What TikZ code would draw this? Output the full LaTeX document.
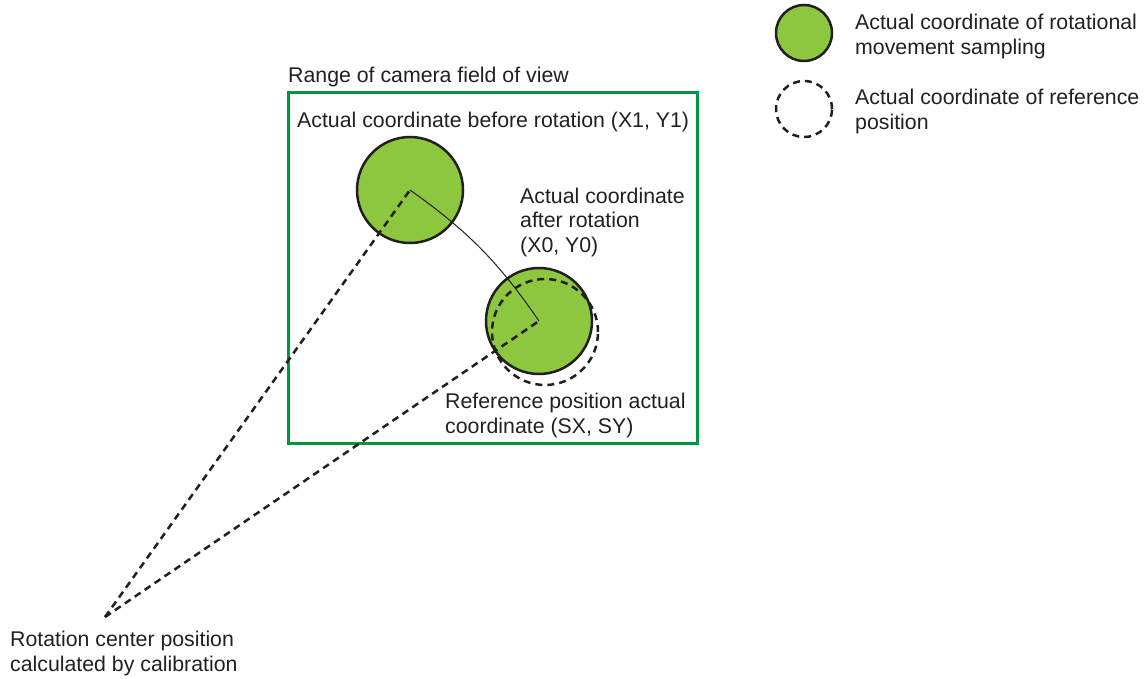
\documentclass[tikz,border=0pt]{standalone}
\usepackage{fontspec}
\setmainfont{Liberation Sans}
\usepackage{tikz}
\usetikzlibrary{positioning}
\definecolor{colText}{RGB}{35,31,32}
\definecolor{colView}{RGB}{0,150,64}
\definecolor{colSample}{RGB}{141,198,63}
\tikzset{
  lbl/.style     = {inner sep=0pt, text=colText, align=left,
                    font=\fontsize{21.3}{25}\selectfont},
  sample/.style  = {circle, draw=colText, fill=colSample, line width=2.5pt,
                    minimum size=106pt, inner sep=0pt},
  refpos/.style  = {circle, draw=colText, dash pattern=on 7pt off 5pt,
                    line width=2.5pt, minimum size=106pt, inner sep=0pt},
  ray/.style     = {draw=colText, dash pattern=on 7pt off 5pt, line width=2.5pt},
  path/.style    = {draw=colText, line width=1pt},
  fov/.style     = {draw=colView, line width=3pt},
}
\begin{document}
\begin{tikzpicture}[x=1pt, y=-1pt]
\useasboundingbox (0,0) rectangle (1146,679);

%% camera field of view
\draw[fov] (288,93) rectangle (697,443);
\node[lbl, anchor=base west] (fov_lbl) at (288,83) {Range of camera field of view};

%% sampled and reference positions
\node[sample] (before) at (410,190) {};
\node[sample] (after)  at (539,321) {};
\node[refpos] (ref)    at (545,332) {};
\coordinate (rotc) at (105,617);

\draw[ray]  (rotc) -- (before.center);
\draw[ray]  (rotc) -- (after.center);
\draw[path] (before.center) to[bend left=10] (after.center);

%% labels (base = last line)
\node[lbl, anchor=base west] (before_lbl) at (297,128)
     {Actual coordinate before rotation (X1, Y1)};
\node[lbl, anchor=base west] (after_lbl) at (520,253)
     {Actual coordinate\\after rotation\\(X0, Y0)};
\node[lbl, anchor=base west] (ref_lbl) at (445,433)
     {Reference position actual\\coordinate (SX, SY)};
\node[lbl, anchor=base west] (rotc_lbl) at (10,671)
     {Rotation center position\\calculated by calibration};

%% legend
\node[sample, minimum size=56pt] (leg_sample) at (804,33) {};
\node[refpos, minimum size=56pt] (leg_ref)    at (804,109) {};
\node[lbl, anchor=base west] (leg_sample_lbl) at (855,55)
     {Actual coordinate of rotational\\movement sampling};
\node[lbl, anchor=base west] (leg_ref_lbl) at (855,130)
     {Actual coordinate of reference\\position};

\end{tikzpicture}
\end{document}
